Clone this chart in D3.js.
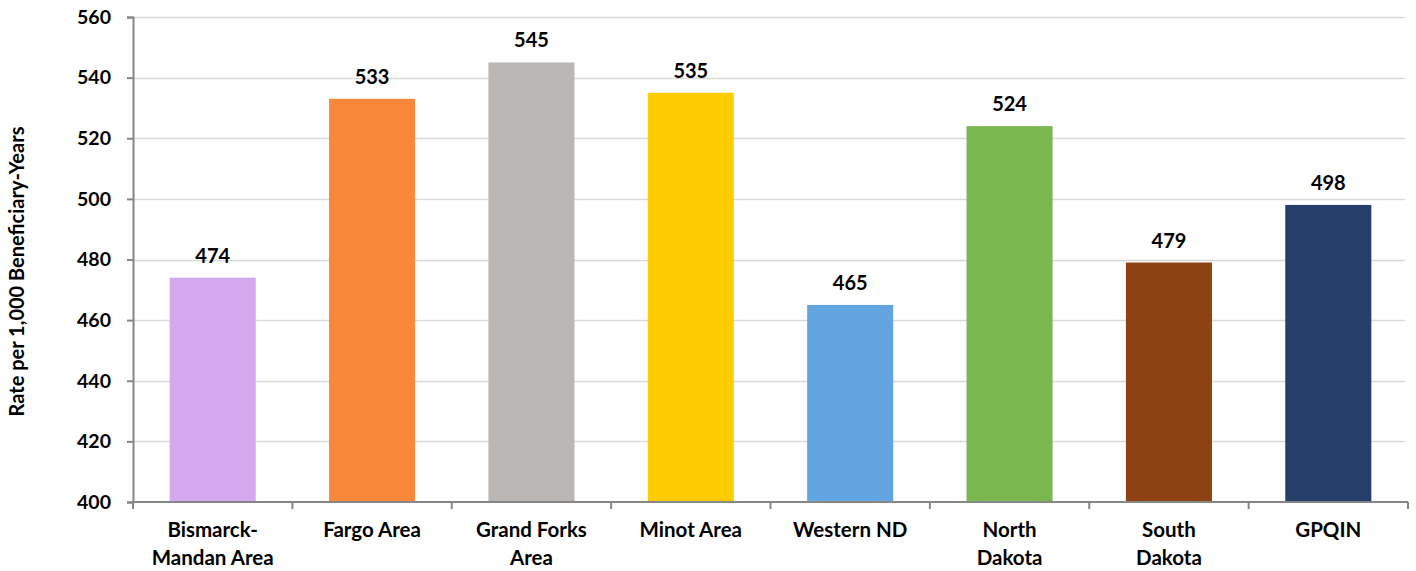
<!DOCTYPE html>
<html>
<head>
<meta charset="utf-8">
<script src="https://cdn.jsdelivr.net/npm/d3@7/dist/d3.min.js"></script>
<style>
  html, body { margin: 0; padding: 0; background: #fff; }
  svg { display: block; }
  text { font-family: Lato, "Open Sans", sans-serif; font-weight: 700; fill: #000; }
</style>
</head>
<body>
<svg id="chart" width="1416" height="571"></svg>
<script>
// Categories (line breaks mark where the axis label wraps)
const categories = [
  "Bismarck-\nMandan Area",
  "Fargo Area",
  "Grand Forks\nArea",
  "Minot Area",
  "Western ND",
  "North\nDakota",
  "South\nDakota",
  "GPQIN"
];
// Rate per 1,000 beneficiary-years
const values = [474, 533, 545, 535, 465, 524, 479, 498];
const barColors = ["#d3a8ef", "#f9883a", "#bab6b4", "#ffcc00", "#63a5e0", "#7ab84f", "#8c4212", "#263f6a"];
const yTicks = [400, 420, 440, 460, 480, 500, 520, 540, 560];
const yTitle = "Rate per 1,000 Beneficiary-Years";

const svg = d3.select("#chart");
const plot = { left: 133, right: 1408, top: 17, bottom: 502 };

const x = d3.scaleBand()
  .domain(d3.range(categories.length))
  .range([plot.left, plot.right])
  .padding(0);

const y = d3.scaleLinear()
  .domain([400, 560])
  .range([plot.bottom, plot.top]);

const barWidth = x.bandwidth() * 0.54;

// Horizontal gridlines
svg.append("g")
  .selectAll("line")
  .data(yTicks.filter(t => t !== 400))
  .join("line")
  .attr("x1", plot.left)
  .attr("x2", plot.right - 3)
  .attr("y1", d => Math.round(y(d)) + 0.5)
  .attr("y2", d => Math.round(y(d)) + 0.5)
  .attr("stroke", "#d9d9d9")
  .attr("stroke-width", 1.5);

// Bars
svg.append("g")
  .selectAll("rect")
  .data(values)
  .join("rect")
  .attr("x", (d, i) => x(i) + (x.bandwidth() - barWidth) / 2)
  .attr("width", barWidth)
  .attr("y", d => y(d))
  .attr("height", d => y(400) - y(d))
  .attr("fill", (d, i) => barColors[i]);

// Value labels
svg.append("g")
  .selectAll("text")
  .data(values)
  .join("text")
  .attr("x", (d, i) => x(i) + x.bandwidth() / 2)
  .attr("y", d => y(d) - 15)
  .attr("text-anchor", "middle")
  .style("font-size", "20px")
  .text(d => d);

// Y axis
const yAxis = svg.append("g")
  .attr("transform", `translate(${plot.left},0)`)
  .call(d3.axisLeft(y).tickValues(yTicks).tickSize(6).tickPadding(16).tickFormat(d3.format("d")));
yAxis.select(".domain").attr("stroke", "#868686").attr("stroke-width", 2);
yAxis.selectAll(".tick line").attr("stroke", "#868686").attr("stroke-width", 2);
yAxis.selectAll(".tick text")
  .style("font-size", "19.5px")
  .style("font-family", "Lato, sans-serif")
  .attr("fill", "#000");

// X axis: ticks at category boundaries
const xAxisG = svg.append("g");
xAxisG.append("line")
  .attr("x1", plot.left - 1).attr("x2", plot.right)
  .attr("y1", plot.bottom).attr("y2", plot.bottom)
  .attr("stroke", "#868686").attr("stroke-width", 2);
const boundaries = d3.range(categories.length + 1).map(i => i === categories.length ? plot.right : x(i));
xAxisG.selectAll("line.tick")
  .data(boundaries)
  .join("line")
  .attr("class", "tick")
  .attr("x1", d => d).attr("x2", d => d)
  .attr("y1", plot.bottom).attr("y2", plot.bottom + 7)
  .attr("stroke", "#868686").attr("stroke-width", 2);

// Category labels
const catLabels = svg.append("g")
  .selectAll("text")
  .data(categories)
  .join("text")
  .attr("x", (d, i) => x(i) + x.bandwidth() / 2)
  .attr("y", 537)
  .attr("text-anchor", "middle")
  .style("font-size", "20.5px");
catLabels.each(function(d) {
  const t = d3.select(this);
  d.split("\n").forEach((line, k) => {
    t.append("tspan")
      .attr("x", t.attr("x"))
      .attr("dy", k === 0 ? 0 : 27.5)
      .text(line);
  });
});

// Y axis title
svg.append("text")
  .attr("transform", `translate(24,${(plot.top + plot.bottom) / 2 + 12}) rotate(-90)`)
  .attr("text-anchor", "middle")
  .style("font-size", "20px")
  .text(yTitle);
</script>
</body>
</html>
